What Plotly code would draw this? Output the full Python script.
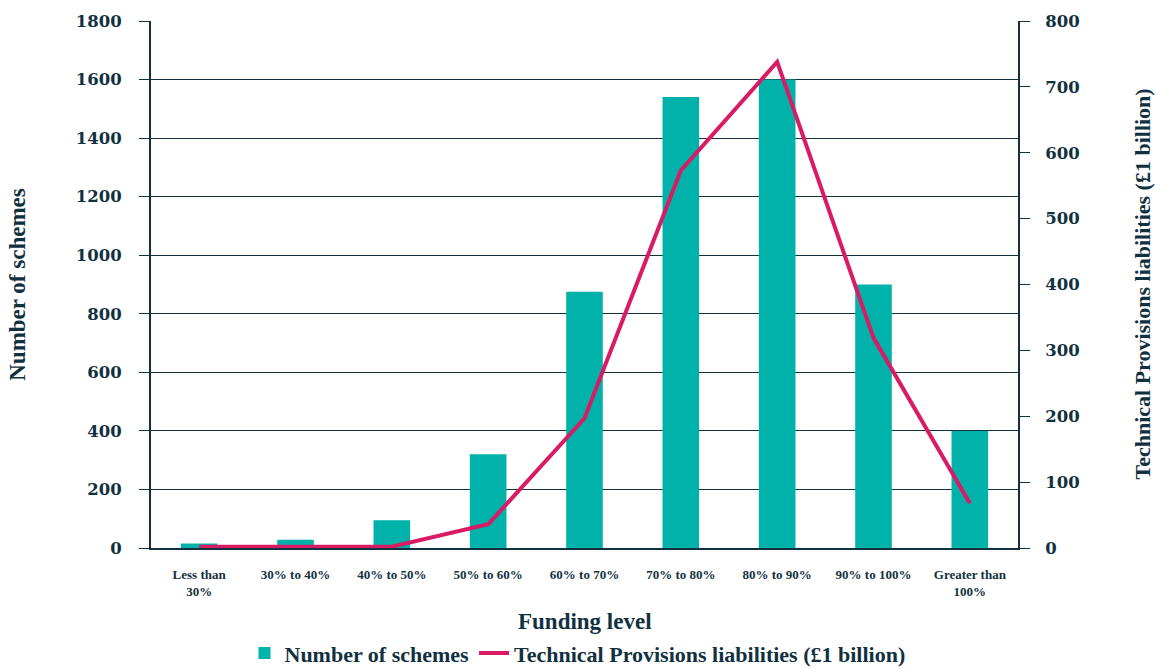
import plotly.graph_objects as go

categories = ["Less than<br>30%", "30% to 40%", "40% to 50%", "50% to 60%", "60% to 70%",
              "70% to 80%", "80% to 90%", "90% to 100%", "Greater than<br>100%"]
schemes = [15, 28, 95, 320, 875, 1540, 1600, 900, 400]
liabilities = [2, 2, 2, 36, 197, 573, 738, 319, 68]
left_ticks = [0, 200, 400, 600, 800, 1000, 1200, 1400, 1600, 1800]
right_ticks = [0, 100, 200, 300, 400, 500, 600, 700, 800]

DARK = "#12313f"
TEAL = "#00b2a9"
PINK = "#d81b64"
NUMF = dict(family="DejaVu Serif", size=16.5, color=DARK, weight="bold")
TXTF = dict(family="Liberation Serif", size=23, color=DARK, weight="bold")
RTF = dict(family="Liberation Serif", size=22, color=DARK, weight="bold")
LEGF = dict(family="Liberation Serif", size=22, color=DARK, weight="bold")

fig = go.Figure()
fig.add_trace(go.Bar(x=categories, y=schemes, name="Number of schemes",
                     marker=dict(color=TEAL, line=dict(width=0)), yaxis="y"))
fig.add_trace(go.Scatter(x=categories, y=liabilities, name="Technical Provisions liabilities (£1 billion)",
                         mode="lines", line=dict(color=PINK, width=4), yaxis="y2"))

fig.update_layout(
    width=1155, height=669,
    margin=dict(l=151, r=137, t=21, b=121, autoexpand=False),
    paper_bgcolor="white", plot_bgcolor="white",
    bargap=0.62,
    font=dict(family="Liberation Serif", color=DARK),
    showlegend=True,
    legend=dict(orientation="h", x=0.5, xanchor="center", xref="container",
                y=-0.160, yanchor="top", yref="paper",
                font=LEGF, traceorder="normal"),
    xaxis=dict(showline=True, linecolor=DARK, linewidth=2, ticks="", automargin=False,
               ticklabelstandoff=13,
               tickfont=dict(family="Liberation Serif", size=13, color=DARK, weight="bold")),
    yaxis=dict(range=[0, 1800], tickvals=left_ticks, showgrid=True, gridcolor=DARK, gridwidth=1,
               showline=True, linecolor=DARK, linewidth=2, ticks="outside", ticklen=10, tickcolor=DARK,
               ticklabelstandoff=14,
               tickfont=NUMF, zeroline=False, automargin=False,
               title=dict(text="Number of schemes", font=TXTF, standoff=44)),
    yaxis2=dict(range=[0, 800], tickvals=right_ticks, overlaying="y", side="right", showgrid=False,
                showline=True, linecolor=DARK, linewidth=2, ticks="outside", ticklen=10, tickcolor=DARK,
                ticklabelstandoff=12,
                tickfont=NUMF, zeroline=False, automargin=False),
    annotations=[
        dict(text="Funding level", xref="paper", yref="paper", x=0.5, y=-0.1404,
             xanchor="center", yanchor="middle", showarrow=False, font=TXTF),
        dict(text="Technical Provisions liabilities (£1 billion)", xref="paper", yref="paper",
             x=(1142 - 151) / 867, y=0.5, xanchor="center", yanchor="middle",
             textangle=-90, showarrow=False, font=RTF),
    ],
)

fig.write_html("out.html")
